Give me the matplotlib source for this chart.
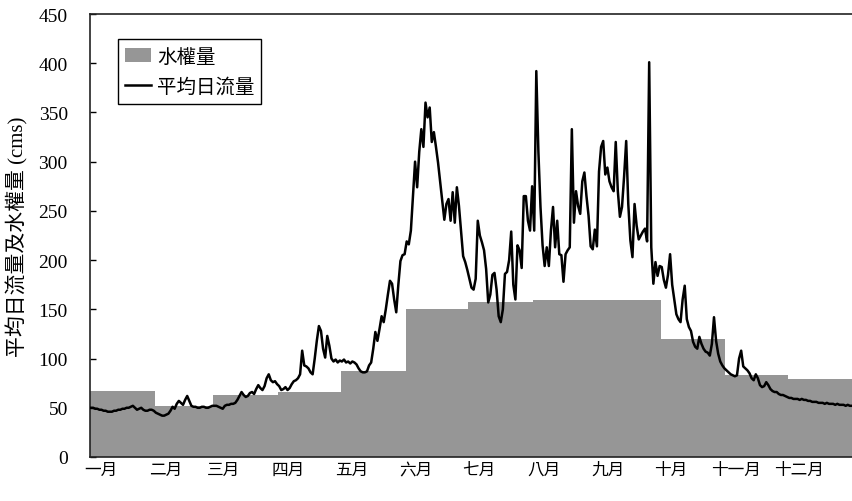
import numpy as np
import matplotlib
matplotlib.use("Agg")
import matplotlib.pyplot as plt
from matplotlib.patches import Patch
from matplotlib.lines import Line2D

months = ["一月", "二月", "三月", "四月", "五月", "六月",
          "七月", "八月", "九月", "十月", "十一月", "十二月"]
month_days = [31, 28, 31, 30, 31, 30, 31, 31, 30, 31, 30, 31]
water_rights = [67, 52, 63, 66, 87, 150, 157, 159, 159, 120, 83, 79]

flow_jan = [50, 50, 49, 49, 48, 48, 47, 47, 46, 46, 46, 47, 47, 48, 48, 49,
            49, 50, 50, 51, 52, 50, 48, 49, 50, 48, 47, 47, 48, 48, 47]
flow_feb = [45, 44, 43, 42, 42, 43, 44, 47, 51, 49, 54, 57, 55, 53, 58, 62,
            57, 52, 51, 51, 50, 50, 51, 51, 50, 50, 51, 52]
flow_mar = [52, 52, 51, 50, 49, 52, 53, 53, 54, 54, 55, 58, 62, 66, 63, 61,
            62, 65, 66, 64, 69, 73, 70, 68, 72, 80, 84, 78, 76, 77, 74]
flow_apr = [72, 68, 69, 71, 68, 70, 74, 77, 78, 80, 84, 108, 93, 92, 90, 86,
            84, 100, 118, 133, 128, 110, 101, 123, 113, 100, 97, 99, 96, 98]
flow_may = [97, 99, 96, 97, 95, 97, 96, 94, 90, 87, 86, 86, 87, 93, 96, 110,
            127, 118, 130, 143, 137, 150, 165, 179, 176, 160, 147, 175, 199, 205, 206]
flow_jun = [219, 216, 230, 265, 300, 274, 310, 333, 315, 360, 345, 355, 320, 330,
            315, 299, 280, 262, 241, 257, 262, 240, 269, 238, 274, 255, 230, 204,
            198, 190]
flow_jul = [181, 172, 170, 181, 240, 225, 218, 210, 191, 157, 165, 185, 187, 170,
            143, 137, 150, 186, 188, 200, 229, 175, 160, 215, 210, 192, 265, 265,
            240, 230, 275]
flow_aug = [230, 392, 310, 254, 215, 194, 213, 194, 230, 254, 213, 240, 206, 205,
            178, 206, 210, 213, 333, 238, 270, 255, 247, 280, 289, 265, 245, 214,
            211, 231, 214]
flow_sep = [290, 315, 321, 287, 294, 280, 274, 270, 320, 270, 244, 254, 285, 321,
            257, 220, 203, 257, 235, 221, 225, 229, 232, 219, 401, 213, 176, 198,
            184, 194]
flow_oct = [193, 180, 172, 185, 206, 175, 160, 145, 140, 137, 160, 174, 140, 132,
            128, 117, 112, 110, 122, 115, 110, 107, 106, 103, 115, 142, 118, 105,
            97, 93, 90]
flow_nov = [88, 86, 84, 83, 82, 83, 100, 108, 92, 90, 88, 85, 80, 78, 84, 80,
            73, 71, 72, 76, 73, 69, 67, 66, 66, 64, 63, 63, 62, 61]
flow_dec = [60, 60, 59, 59, 59, 58, 59, 58, 58, 57, 57, 56, 56, 56, 55, 55,
            55, 54, 55, 54, 54, 54, 53, 54, 53, 53, 53, 52, 53, 52, 52]

flow = (flow_jan + flow_feb + flow_mar + flow_apr + flow_may + flow_jun +
        flow_jul + flow_aug + flow_sep + flow_oct + flow_nov + flow_dec)

serif = "Liberation Serif"
cjk = "Noto Sans CJK TC"

fig = plt.figure(figsize=(8.53, 5.02), dpi=100)
ax = fig.add_axes([90 / 853, 44 / 502, 763 / 853, 443 / 502])

starts = np.concatenate([[0], np.cumsum(month_days)[:-1]])
ax.bar(starts, water_rights, width=month_days, align="edge",
       color="#969696", linewidth=0, zorder=1)
days = np.arange(len(flow)) + 0.5
ax.plot(days, flow, color="black", lw=1.8, zorder=3)

ax.set_xlim(0, 365)
ax.set_ylim(0, 450)
ax.set_yticks(np.arange(0, 451, 50))
ax.tick_params(axis="y", direction="in", length=4, width=1, pad=16,
               labelsize=14)
for lbl in ax.get_yticklabels():
    lbl.set_fontfamily(serif)

ax.set_xticks(starts + 5)
ax.set_xticklabels(months, fontfamily=cjk, fontsize=12)
ax.tick_params(axis="x", length=0, pad=3)

ax.set_ylabel("平均日流量及水權量 (cms)", fontsize=15,
              fontfamily=[serif, cjk])
ax.yaxis.set_label_coords(-62 / 763, 0.5)

for s in ["left", "bottom", "top"]:
    ax.spines[s].set_linewidth(1.2)
    ax.spines[s].set_color("#222222")
ax.spines["right"].set_visible(False)

handles = [Patch(facecolor="#969696", edgecolor="none"),
           Line2D([0], [0], color="black", lw=1.8)]
leg = ax.legend(handles, ["水權量", "平均日流量"], loc="upper left",
                bbox_to_anchor=(0.037, 0.943), borderaxespad=0,
                prop={"family": cjk, "size": 14}, frameon=True,
                fancybox=False, edgecolor="black", framealpha=1,
                handlelength=1.35, handletextpad=0.3, borderpad=0.35,
                labelspacing=0.45)
leg.get_frame().set_linewidth(1.0)

fig.savefig("out.png", dpi=100)
